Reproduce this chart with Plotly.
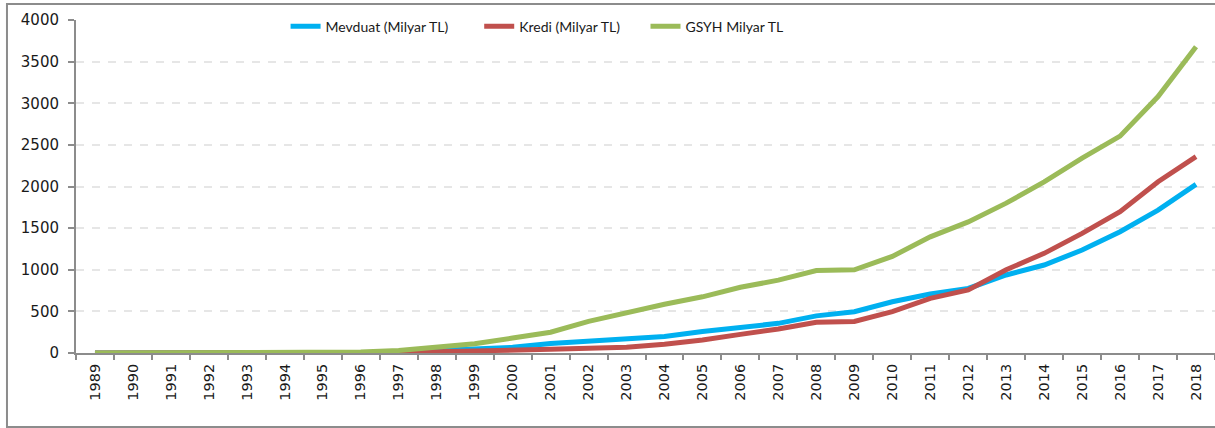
import plotly.graph_objects as go

years = [str(y) for y in range(1989, 2019)]

# Mevduat (Milyar TL)
mevduat = [0.02, 0.04, 0.08, 0.15, 0.3, 0.6, 1.2, 3, 8, 30,
           50, 68, 115, 138, 165, 198, 258, 308, 356, 446,
           496, 616, 708, 775, 937, 1057, 1237, 1457, 1717, 2026]

# Kredi (Milyar TL)
kredi = [0.02, 0.03, 0.06, 0.1, 0.2, 0.4, 0.8, 2, 5, 16,
         22, 30, 44, 56, 68, 104, 156, 224, 288, 369,
         378, 496, 657, 757, 1000, 1197, 1437, 1697, 2058, 2358]

# GSYH Milyar TL
gsyh = [0.1, 0.2, 0.4, 0.7, 1.2, 2.2, 4, 12, 30, 70,
        110, 180, 250, 380, 490, 585, 675, 790, 875, 990,
        1000, 1160, 1395, 1575, 1800, 2055, 2340, 2605, 3080, 3680]

series = [
    ("Mevduat (Milyar TL)", mevduat, "#00B0F0", "legend", 0.184),
    ("Kredi (Milyar TL)", kredi, "#C0504D", "legend2", 0.354),
    ("GSYH Milyar TL", gsyh, "#9BBB59", "legend3", 0.5),
]

fig = go.Figure()
legend_font = dict(family="Lato", size=14, color="#1a1a1a")
legends = {}
for name, vals, color, leg, lx in series:
    fig.add_trace(go.Scatter(
        x=years, y=vals, name=name, mode="lines",
        line=dict(color=color, width=5), legend=leg,
    ))
    legends[leg] = dict(
        orientation="h", x=lx, xanchor="left", y=1.028, yanchor="top",
        bgcolor="rgba(255,255,255,0)", font=legend_font,
    )

axis_color = "#8C8C8C"

fig.update_layout(
    width=1215, height=428,
    margin=dict(l=76, r=0, t=20, b=75),
    paper_bgcolor="white", plot_bgcolor="white",
    showlegend=True,
    **legends,
    xaxis=dict(
        type="category", range=[-0.5, 29.5],
        showgrid=False, showline=True, linecolor=axis_color, linewidth=2,
        ticks="outside", tickson="boundaries", ticklen=5, tickcolor=axis_color, tickwidth=2,
        tickangle=-90, tickfont=dict(family="DejaVu Sans", size=14.5, color="#1a1a1a"),
        ticklabelstandoff=3,
    ),
    yaxis=dict(
        range=[0, 4000], dtick=500, tickformat="d",
        showgrid=True, gridcolor="#E6E6E6", griddash="8px,8px", gridwidth=1.5,
        showline=True, linecolor=axis_color, linewidth=2, zeroline=False,
        ticks="outside", ticklen=6, tickcolor=axis_color, tickwidth=2,
        tickfont=dict(family="DejaVu Sans", size=15, color="#1a1a1a"),
        ticklabelstandoff=6,
    ),
    shapes=[
        # outer frame
        dict(type="rect", xref="paper", yref="paper",
             x0=-0.0606, x1=1.01, y0=-0.222, y1=1.048,
             line=dict(color="#8C8C8C", width=2), fillcolor="rgba(0,0,0,0)", layer="below"),
        # white backing behind the legend row
        dict(type="rect", xref="paper", yref="paper",
             x0=0.175, x1=0.78, y0=0.93, y1=1.025,
             line=dict(width=0), fillcolor="white", layer="above"),
    ],
)

fig.write_html("out.html")
